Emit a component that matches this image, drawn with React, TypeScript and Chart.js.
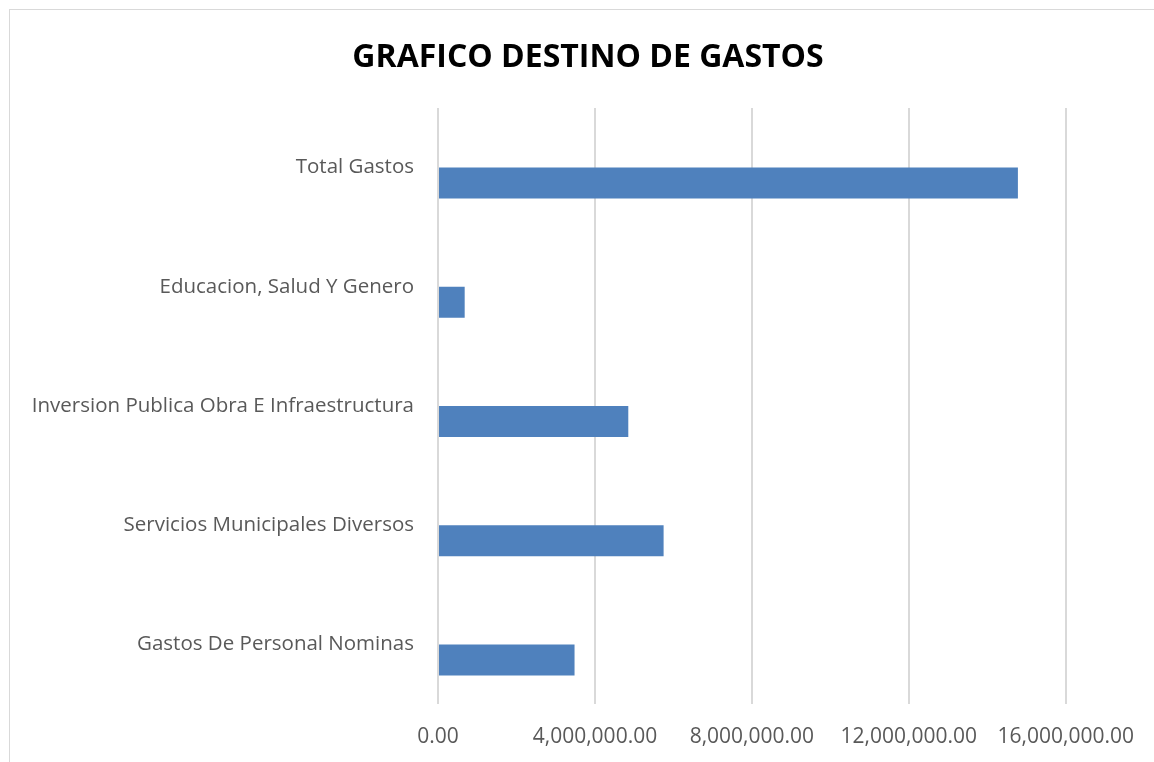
import React, { useEffect, useRef } from "react";
import { Chart, registerables } from "chart.js";

Chart.register(...registerables);

const categories = [
  "Total Gastos",
  "Educacion, Salud Y Genero",
  "Inversion Publica Obra E Infraestructura",
  "Servicios Municipales Diversos",
  "Gastos De Personal Nominas",
];
const values = [14780000, 680000, 4850000, 5750000, 3480000];
const spacer = [null, null, null, null, null];
const xTicks = [0, 4000000, 8000000, 12000000, 16000000];
const titleText = "GRAFICO DESTINO DE GASTOS";

const FONT = "'Open Sans', sans-serif";

const titlePlugin = {
  id: "centeredTitle",
  afterDraw(chart: any) {
    const ctx = chart.ctx;
    ctx.save();
    ctx.font = `bold 32px ${FONT}`;
    ctx.fillStyle = "#000000";
    ctx.textAlign = "center";
    ctx.textBaseline = "alphabetic";
    ctx.fillText(titleText, 588, 67);
    ctx.restore();
  },
};

export default function App() {
  const ref = useRef<HTMLCanvasElement | null>(null);

  useEffect(() => {
    document.body.style.margin = "0";
    document.body.style.overflow = "hidden";
    const canvas = ref.current;
    if (!canvas) return;
    const chart = new Chart(canvas, {
      type: "bar",
      data: {
        labels: categories,
        datasets: [
          {
            data: spacer,
            backgroundColor: "rgba(0,0,0,0)",
            borderWidth: 0,
            categoryPercentage: 0.52,
            barPercentage: 1,
          },
          {
            data: values,
            backgroundColor: "#4F81BD",
            borderWidth: 0,
            categoryPercentage: 0.52,
            barPercentage: 1,
          },
        ],
      },
      plugins: [titlePlugin],
      options: {
        indexAxis: "y",
        animation: false,
        responsive: false,
        maintainAspectRatio: false,
        layout: { padding: { left: 0, right: 88, top: 108, bottom: 0 } },
        plugins: {
          legend: { display: false },
          tooltip: { enabled: false },
          title: { display: false },
        },
        scales: {
          x: {
            min: 0,
            max: 16000000,
            afterBuildTicks: (scale: any) => {
              scale.ticks = xTicks.map((v) => ({ value: v }));
            },
            afterFit: (scale: any) => {
              scale.height = 58;
            },
            grid: { color: "#d9d9d9", lineWidth: 2, drawTicks: false },
            border: { display: false },
            ticks: {
              color: "#595959",
              padding: 20,
              maxRotation: 0,
              autoSkip: false,
              font: { family: FONT, size: 21 },
              callback: (v: any) =>
                Number(v).toLocaleString("en-US", {
                  minimumFractionDigits: 2,
                  maximumFractionDigits: 2,
                }),
            },
          },
          y: {
            afterFit: (scale: any) => {
              scale.width = 438;
            },
            grid: { display: false, drawTicks: false },
            border: { display: false },
            ticks: {
              color: "#595959",
              padding: 24,
              autoSkip: false,
              font: { family: FONT, size: 20.5 },
            },
          },
        },
      },
    });
    return () => chart.destroy();
  }, []);

  return (
    <div style={{ position: "fixed", left: 0, top: 0, width: 1154, height: 762, overflow: "hidden", background: "#fff" }}>
      <div
        style={{
          position: "absolute",
          left: 9,
          top: 9,
          width: 1200,
          height: 800,
          border: "1px solid #d9d9d9",
          boxSizing: "border-box",
        }}
      />
      <canvas ref={ref} width={1154} height={762} style={{ position: "absolute", left: 0, top: 0, display: "block" }} />
    </div>
  );
}
